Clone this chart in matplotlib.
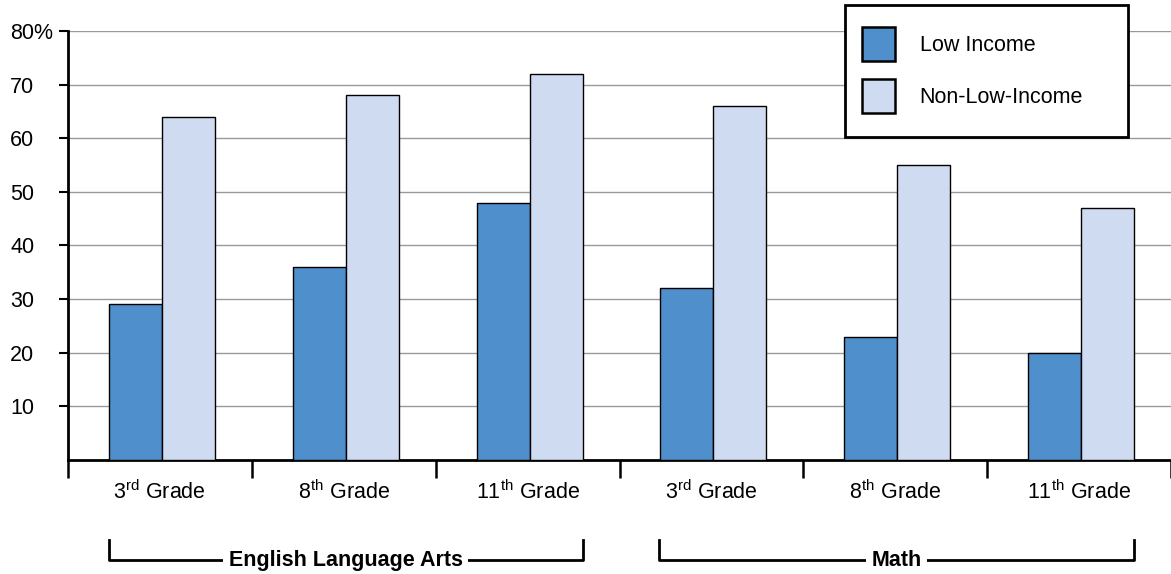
import matplotlib
matplotlib.use('Agg')
import matplotlib.pyplot as plt
from matplotlib.patches import Patch, Rectangle
import numpy as np

plt.rcParams['font.family'] = ['Liberation Sans', 'DejaVu Sans']
plt.rcParams['mathtext.default'] = 'regular'

# Data
grades = [r'3$^{rd}$ Grade', r'8$^{th}$ Grade', r'11$^{th}$ Grade',
          r'3$^{rd}$ Grade', r'8$^{th}$ Grade', r'11$^{th}$ Grade']
subjects = ['English Language Arts', 'Math']
low_income = [29, 36, 48, 32, 23, 20]
non_low_income = [64, 68, 72, 66, 55, 47]
yticks = [10, 20, 30, 40, 50, 60, 70, 80]

low_color = '#4F8FCB'
high_color = '#CFDBF0'
fs = 15.5

fig = plt.figure(figsize=(11.71, 5.74), dpi=100)
ax = fig.add_axes([68 / 1171, 1 - 460 / 574, 1 - 68 / 1171, (460 - 31) / 574])

x = np.arange(len(grades))
w = 0.288
ax.bar(x + 0.223, low_income, width=w, align='edge', color=low_color,
       edgecolor='black', linewidth=1, zorder=3)
ax.bar(x + 0.223 + w, non_low_income, width=w, align='edge', color=high_color,
       edgecolor='black', linewidth=1, zorder=3)

ax.set_xlim(0, 6)
ax.set_ylim(0, 80)

# y axis, labels left aligned near the figure edge
ax.set_yticks(yticks)
ax.set_yticklabels([str(v) if v != 80 else '80%' for v in yticks], fontsize=fs)
ax.yaxis.grid(True, color='#999999', linewidth=1)
ax.set_axisbelow(True)
ax.tick_params(axis='y', direction='out', length=6.5, width=1.5, pad=35)
for lab in ax.get_yticklabels():
    lab.set_horizontalalignment('left')

# x axis: group separators as major ticks, labels on minor ticks
ax.set_xticks(np.arange(0, 7))
ax.set_xticklabels([])
ax.set_xticks(x + 0.5, minor=True)
ax.set_xticklabels(grades, minor=True, fontsize=fs)
ax.tick_params(axis='x', which='major', direction='out', length=13, width=1.8)
ax.tick_params(axis='x', which='minor', length=0, pad=15)

for s in ['top', 'right']:
    ax.spines[s].set_visible(False)
ax.spines['left'].set_linewidth(2)
ax.spines['bottom'].set_linewidth(2)

# subject brackets
spans = [(0.223, 2.799), (3.217, 5.799)]
for (x0, x1), name in zip(spans, subjects):
    ax.plot([x0, x0, x1, x1], [-14.9, -18.7, -18.7, -14.9], color='black',
            linewidth=2, clip_on=False)
    ax.text((x0 + x1) / 2, -18.7, name, ha='center', va='center', fontsize=fs,
            fontweight='bold',
            bbox=dict(facecolor='white', edgecolor='none', pad=4))

# legend with a separately drawn frame
handles = [Patch(facecolor=low_color, edgecolor='black', linewidth=1.8, label='Low Income'),
           Patch(facecolor=high_color, edgecolor='black', linewidth=1.8, label='Non-Low-Income')]
fig.patches.append(Rectangle((845 / 1171, 1 - 137 / 574), 283 / 1171, 132 / 574,
                             transform=fig.transFigure, facecolor='white',
                             edgecolor='black', linewidth=2, zorder=5))
leg = fig.legend(handles=handles, loc='upper left',
                 bbox_to_anchor=(862 / 1171, 1 - 27 / 574),
                 fontsize=fs, frameon=False, handlelength=1.52,
                 handleheight=2.05, handletextpad=1.16, labelspacing=0.85,
                 borderpad=0, borderaxespad=0)
leg.set_zorder(6)

fig.savefig('out.png', dpi=100)
